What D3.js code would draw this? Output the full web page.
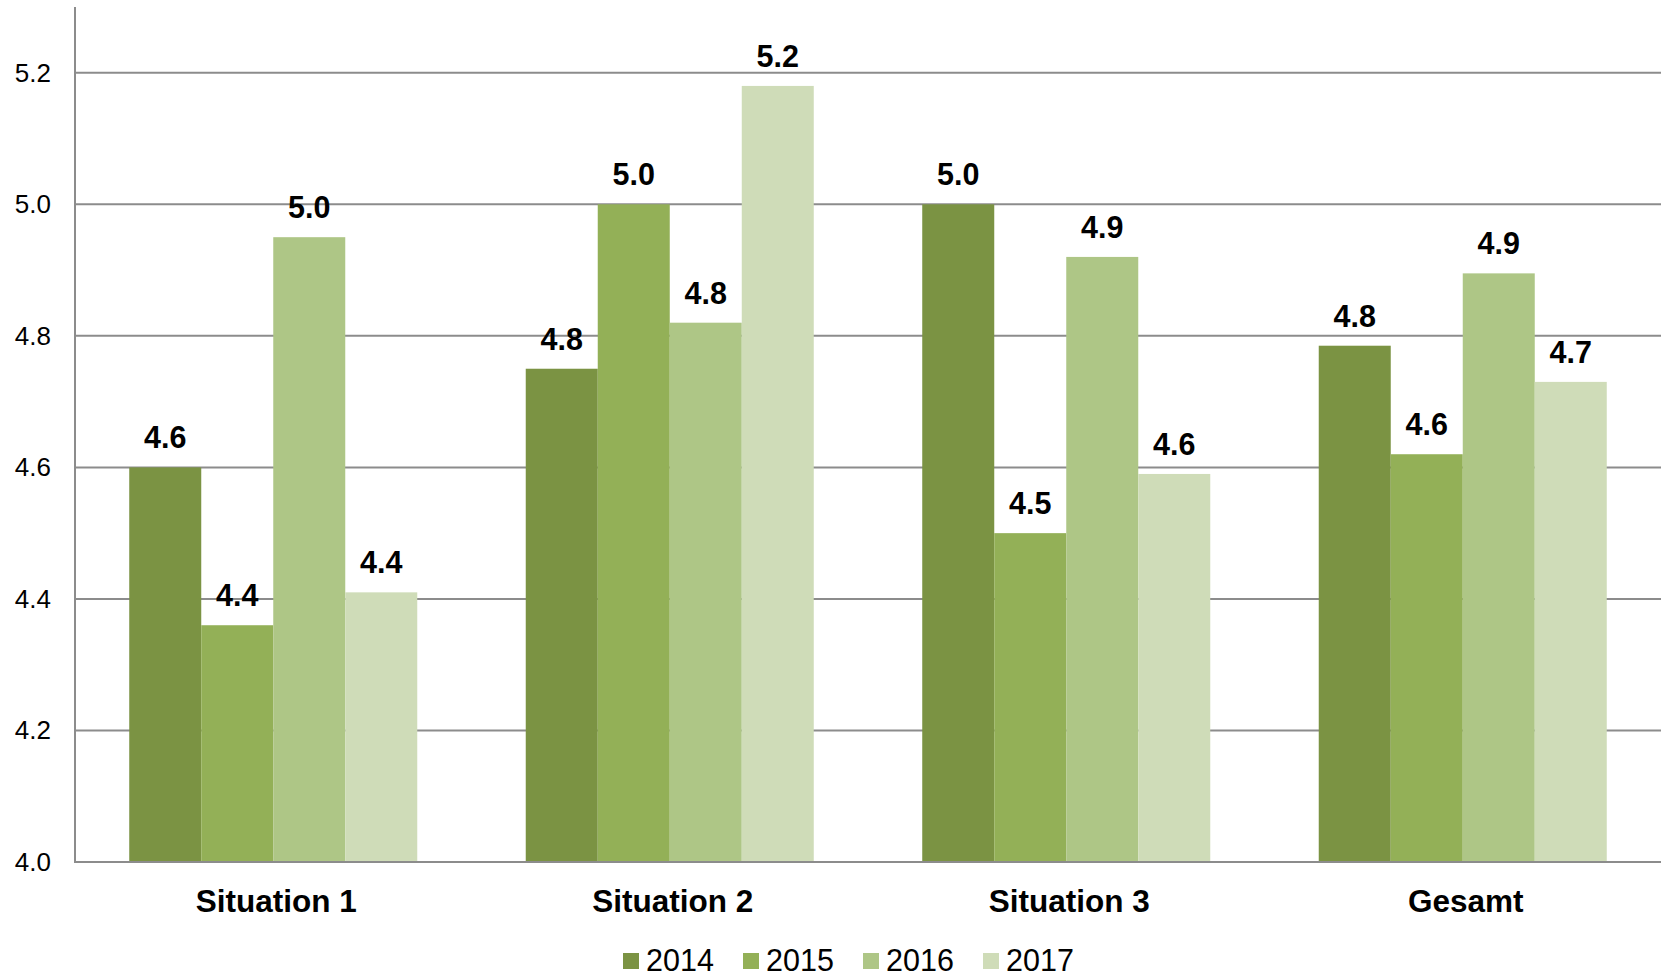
<!DOCTYPE html>
<html>
<head>
<meta charset="utf-8">
<script src="https://cdn.jsdelivr.net/npm/d3@7"></script>
<style>
  html, body { margin: 0; padding: 0; background: #fff; }
  svg { display: block; font-family: "Liberation Sans", Arial, sans-serif; }
</style>
</head>
<body>
<svg id="chart" width="1667" height="977"></svg>
<script>
const categories = ["Situation 1", "Situation 2", "Situation 3", "Gesamt"];
const years = ["2014", "2015", "2016", "2017"];
const values2014 = [4.60, 4.75, 5.00, 4.785];
const values2015 = [4.36, 5.00, 4.50, 4.62];
const values2016 = [4.95, 4.82, 4.92, 4.895];
const values2017 = [4.41, 5.18, 4.59, 4.73];
const yTicks = [4.0, 4.2, 4.4, 4.6, 4.8, 5.0, 5.2];
const colors = ["#7b9343", "#93b057", "#aec686", "#cfdcb8"];

(function () {
const seriesValues = [values2014, values2015, values2016, values2017];
const data = categories.map((c, i) => ({
  category: c,
  bars: years.map((y, j) => ({ year: y, value: seriesValues[j][i], color: colors[j] }))
}));

const svg = d3.select("#chart");
const mLeft = 75, mRight = 1661, mTop = 7, mBottom = 862;

const x0 = d3.scaleBand().domain(categories).range([mLeft, mRight])
  .paddingInner(0.2736).paddingOuter(0.1368);
const x1 = d3.scaleBand().domain(years).range([0, x0.bandwidth()]);
const y = d3.scaleLinear().domain([4.0, 5.3]).range([mBottom, mTop]);

// gridlines
svg.append("g").selectAll("line").data(yTicks.filter(t => t > 4.0)).join("line")
  .attr("x1", mLeft).attr("x2", mRight)
  .attr("y1", d => y(d)).attr("y2", d => y(d))
  .attr("stroke", "#8c8c8c").attr("stroke-width", 2);

// y tick labels
const yAxis = d3.axisLeft(y).tickValues(yTicks).tickFormat(d3.format(".1f")).tickSize(0).tickPadding(24);
const ga = svg.append("g").attr("transform", `translate(${mLeft},0)`).call(yAxis);
ga.select(".domain").remove();
ga.selectAll("text").attr("font-size", 26).attr("fill", "#000")
  .attr("font-family", "'Liberation Sans', Arial, sans-serif");

// bars
const groups = svg.append("g").selectAll("g").data(data).join("g")
  .attr("transform", d => `translate(${x0(d.category)},0)`);
groups.selectAll("rect").data(d => d.bars).join("rect")
  .attr("x", d => x1(d.year))
  .attr("width", x1.bandwidth())
  .attr("y", d => y(d.value))
  .attr("height", d => y(4.0) - y(d.value))
  .attr("fill", d => d.color);

// data labels
groups.selectAll("text").data(d => d.bars).join("text")
  .attr("x", d => x1(d.year) + x1.bandwidth() / 2)
  .attr("y", d => y(d.value) - 19)
  .attr("text-anchor", "middle")
  .attr("font-size", 30.5).attr("font-weight", "bold").attr("fill", "#000")
  .text(d => d3.format(".1f")(d.value));

// axis lines
svg.append("line").attr("x1", mLeft).attr("x2", mLeft).attr("y1", mTop).attr("y2", mBottom + 1)
  .attr("stroke", "#8c8c8c").attr("stroke-width", 2);
svg.append("line").attr("x1", mLeft - 1).attr("x2", mRight).attr("y1", mBottom).attr("y2", mBottom)
  .attr("stroke", "#8c8c8c").attr("stroke-width", 2);

// category labels
const xAxis = d3.axisBottom(x0).tickSize(0).tickPadding(0);
const gx = svg.append("g").attr("transform", `translate(3,${mBottom})`).call(xAxis);
gx.select(".domain").remove();
gx.selectAll("text").attr("font-size", 31.5).attr("font-weight", "bold").attr("fill", "#000")
  .attr("font-family", "'Liberation Sans', Arial, sans-serif")
  .attr("dy", null).attr("y", 50);

// legend
const legend = svg.append("g").attr("transform", "translate(623,0)");
const items = legend.selectAll("g").data(years).join("g")
  .attr("transform", (d, i) => `translate(${i * 120},0)`);
items.append("rect").attr("x", 0).attr("y", 953).attr("width", 16).attr("height", 16)
  .attr("fill", (d, i) => colors[i]);
items.append("text").attr("x", 23).attr("y", 970.5)
  .attr("font-size", 30.5).attr("fill", "#000").text(d => d);
})();
</script>
</body>
</html>
